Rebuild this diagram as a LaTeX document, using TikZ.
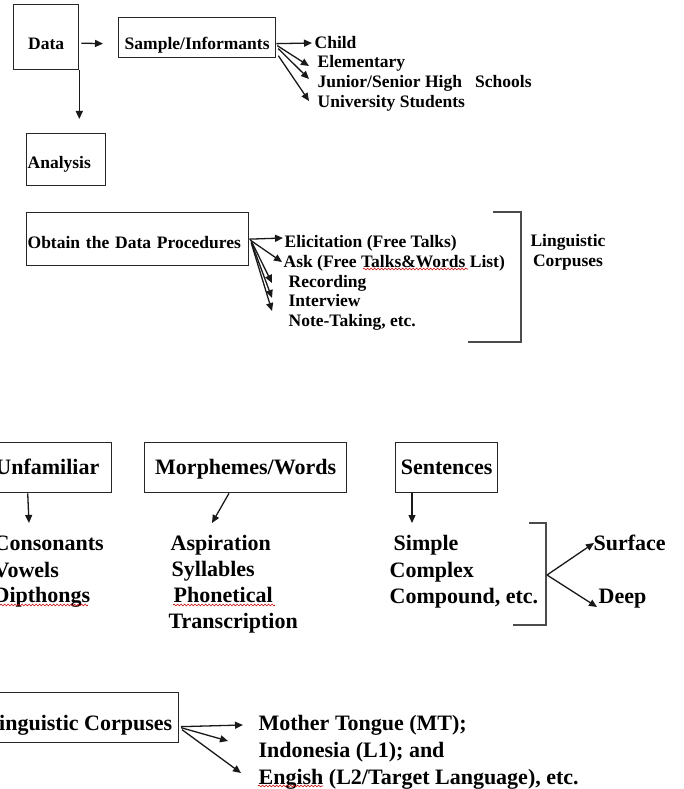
\documentclass[tikz,border=0pt]{standalone}
\usepackage{fontspec}
\setmainfont{Liberation Serif}
\usetikzlibrary{arrows.meta,decorations.pathmorphing,calc}
\begin{document}
\begin{tikzpicture}[x=1pt,y=-1pt,
  line width=1.3pt,
  every node/.style={inner sep=0pt},
  small/.style={font=\fontsize{17.5}{20}\selectfont\bfseries},
  big/.style={font=\fontsize{22}{26}\selectfont\bfseries},
  box/.style={draw=black!85},
  arr/.style={draw=black!90,-{Triangle[length=8pt,width=7pt]}},
  bracket/.style={draw=black!70,line width=1.4pt},
  wavy/.style={draw=red!80!black,line width=0.6pt,decorate,
    decoration={snake,amplitude=0.9pt,segment length=3.5pt}},
]
\useasboundingbox (0,0) rectangle (683,789);
\clip (0,0) rectangle (683,789);

% ---------- data collection ----------
\node[box,small,anchor=north west,minimum width=65pt,text height=45pt,text depth=20pt] (data) at (13,4) {Data};
\node[box,small,anchor=north west,minimum width=157pt,text height=32pt,text depth=8pt] (samp) at (118,17) {Sample/Informants};
\draw[arr] ([shift={(2,6)}]data.east) -- ([shift={(-15,6)}]samp.west);

\node[small,anchor=base west] (child) at (314,49) {Child};
\node[small,anchor=base west] (elem) at (317,68) {Elementary};
\node[small,anchor=base west] (junior) at (317,88) {Junior/Senior High~~~Schools};
\node[small,anchor=base west] (univ) at (317,108) {University Students};
\draw[arr] ([shift={(0,6)}]samp.east) -- ([shift={(-2,-6)}]child.base west);
\draw[arr] ([shift={(1,8)}]samp.east) -- ([shift={(-8,-2)}]elem.base west);
\draw[arr] ([shift={(2,11)}]samp.east) -- ([shift={(-8,-9)}]junior.base west);
\draw[arr] ([shift={(2,18)}]samp.east) -- ([shift={(-8,-7)}]univ.base west);

% ---------- analysis ----------
\node[box,small,anchor=north west,text width=77pt,align=left,inner xsep=1pt,text height=35pt,text depth=17pt] (ana) at (26,133) {Analysis};
\draw[arr] (data.south east) -- ($(ana.north -| data.south east)+(0,-14)$);

% ---------- procedures ----------
\node[box,small,anchor=north west,text width=220pt,align=left,inner xsep=1pt,text height=36pt,text depth=17pt] (obt) at (26,212) {Obtain the Data Procedures};
\node[small,anchor=base west] (elic) at (284,247) {Elicitation (Free Talks)};
\node[small,anchor=base west] (ask) at (283,267) {Ask (Free Talks\&Words List)};
\node[small,anchor=base west] (rec) at (288,287) {Recording};
\node[small,anchor=base west] (intv) at (288,306) {Interview};
\node[small,anchor=base west] (note) at (288,326) {Note-Taking, etc.};
\draw[arr] (obt.east) -- ([shift={(-1,-9)}]elic.base west);
\draw[arr] ([shift={(1,1)}]obt.east) -- ([shift={(-1,-5)}]ask.base west);
\draw[arr] ([shift={(2,2)}]obt.east) -- ([shift={(-16,-4)}]rec.base west);
\draw[arr] ([shift={(2,3)}]obt.east) -- ([shift={(-16,-8)}]intv.base west);
\draw[arr] ([shift={(2,4)}]obt.east) -- ([shift={(-16,-15)}]note.base west);
\draw[wavy] (363,269) -- (468,269);

\draw[bracket] (493,212) -- (521,212) -- (521,342) -- (468,342);
\node[small,align=center] (lcorp) at (568,252) {Linguistic\\Corpuses};

% ---------- linguistic levels ----------
\node[box,big,anchor=north east,minimum width=128pt,text height=32pt,text depth=18pt] (unf) at (112,442) {Unfamiliar};
\node[box,big,anchor=north west,minimum width=202pt,text height=32pt,text depth=18pt] (morph) at (144,442) {Morphemes/Words};
\node[box,big,anchor=north west,minimum width=102pt,text height=32pt,text depth=18pt] (sent) at (395,442) {Sentences};

\node[big,anchor=base west] (cons) at (-7,550) {Consonants};
\node[big,anchor=base west] (vow) at (-7,577) {Vowels};
\node[big,anchor=base west] (dip) at (-7,602) {Dipthongs};
\draw[arr] ($(unf.south west)+(45,0)$) -- ([shift={(36,-27)}]cons.base west);
\draw[wavy] (-7,605) -- (88,605);

\node[big,anchor=base west] (asp) at (170,550) {Aspiration};
\node[big,anchor=base west] (syl) at (171,576) {Syllables};
\node[big,anchor=base west] (phon) at (173,602) {Phonetical};
\node[big,anchor=base west] (trans) at (168,628) {Transcription};
\draw[arr] ($(morph.south west)+(85,0)$) -- ([shift={(42,-27)}]asp.base west);
\draw[wavy] (173,605) -- (275,605);

\node[big,anchor=base west] (simp) at (393,550) {Simple};
\node[big,anchor=base west] (comp) at (389,577) {Complex};
\node[big,anchor=base west] (cpd) at (389,603) {Compound, etc.};
\draw[arr] ($(sent.south west)+(17,0)$) -- ([shift={(19,-27)}]simp.base west);

\draw[bracket] (529,523) -- (546,523) -- (546,625) -- (513,625);
\coordinate (fan) at (547,575);
\node[big,anchor=base west] (surf) at (593,550) {Surface};
\node[big,anchor=base west] (deep) at (598,603) {Deep};
\draw[arr] (fan) -- ([shift={(1,-7)}]surf.base west);
\draw[arr] (fan) -- ([shift={(-1,4)}]deep.base west);

% ---------- corpora ----------
\node[box,big,anchor=north east,minimum width=200pt,text height=38pt,text depth=12pt] (lc) at (179,692) {Linguistic Corpuses};
\node[big,anchor=base west] (moth) at (258,730) {Mother Tongue (MT);};
\node[big,anchor=base west] (indo) at (258,757) {Indonesia (L1); and};
\node[big,anchor=base west] (eng) at (258,784) {Engish (L2/Target Language), etc.};
\draw[arr] ([shift={(2,9)}]lc.east) -- ([shift={(-15,-5)}]moth.base west);
\draw[arr] ([shift={(2,10)}]lc.east) -- ([shift={(-30,-16)}]indo.base west);
\draw[arr] ([shift={(3,12)}]lc.east) -- ([shift={(-17,-11)}]eng.base west);
\draw[wavy] (258,786) -- (323,786);
\end{tikzpicture}
\end{document}
